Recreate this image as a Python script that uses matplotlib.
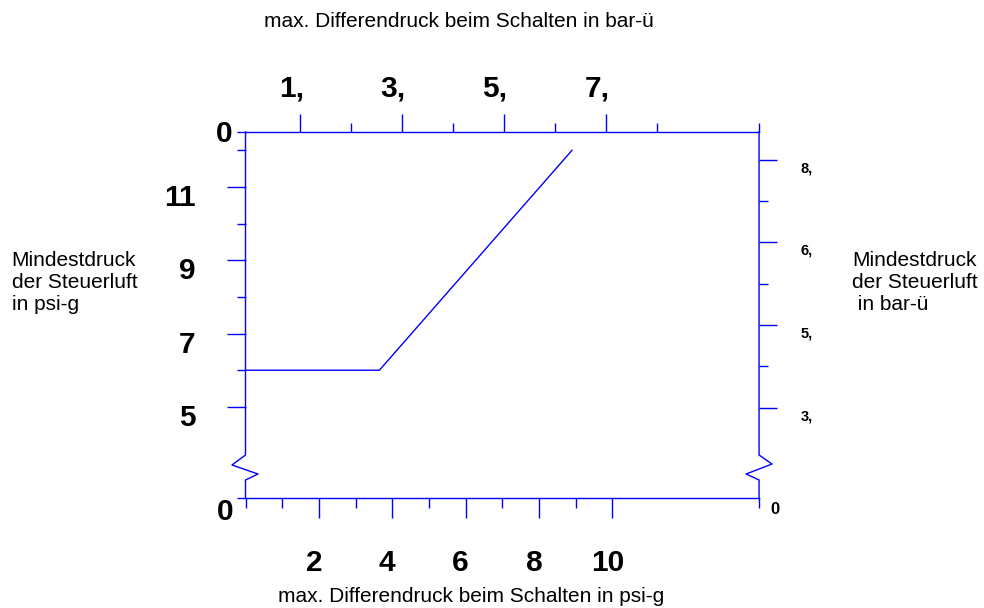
import matplotlib

matplotlib.use("Agg")
import matplotlib.pyplot as plt
from matplotlib.transforms import ScaledTranslation

plt.rcParams["font.family"] = ["Liberation Sans", "DejaVu Sans"]

BLUE = "#0000ff"
PX = 0.72  # one pixel in points at dpi 100

# psi-g scales (bottom / left) and bar-ü scales (top / right)
x_psi_range = [0, 14]
y_psi_range = [2.5, 12.5]
x_bar_range = [-0.008, 1.001]
y_bar_range = [0.185, 0.85]

x_psi_ticks = [2, 4, 6, 8, 10]
x_psi_labels = ["2", "4", "6", "8", "10"]
x_psi_minor = [0, 1, 3, 5, 7, 9, 14]

y_psi_ticks = [5, 7, 9, 11]
y_psi_labels = ["5", "7", "9", "11"]
y_psi_minor = [2.5, 6, 8, 10, 12, 12.5]

x_bar_ticks = [0.1, 0.3, 0.5, 0.7]
x_bar_labels = ["1,", "3,", "5,", "7,"]
x_bar_minor = [0.2, 0.4, 0.6, 0.8, 1.001]

y_bar_ticks = [0.35, 0.5, 0.65, 0.8]
y_bar_labels = ["3,", "5,", "6,", "8,"]
y_bar_minor = [0.425, 0.575, 0.725]

# minimum pilot pressure over max. differential pressure (psi-g)
curve_x = [0, 3.65, 8.9]
curve_y = [6, 6, 12]


def shift_labels(labels, fig, dx_px, dy_px):
    off = ScaledTranslation(dx_px / 100, dy_px / 100, fig.dpi_scale_trans)
    for lab in labels:
        lab.set_transform(lab.get_transform() + off)


fig = plt.figure(figsize=(9.84, 6.08), dpi=100)
ax = fig.add_axes([0.2495, 0.1801, 0.5219, 0.6028])
ax.set_xlim(*x_psi_range)
ax.set_ylim(*y_psi_range)

ax.plot(curve_x, curve_y, color=BLUE, lw=1.0)

# frame: top and bottom as spines, sides drawn with the break mark
for side in ["top", "bottom"]:
    ax.spines[side].set_color(BLUE)
    ax.spines[side].set_linewidth(1.0)
for side in ["left", "right"]:
    ax.spines[side].set_visible(False)
left_side = [(0, 1), (0, 0.1187), (-0.0263, 0.0914), (0.0243, 0.0668),
             (0, 0.0505), (0, 0)]
right_side = [(1, 1), (1, 0.1187), (1.0253, 0.0941), (0.9747, 0.0668),
              (1, 0.0505), (1, 0)]
for pts in [left_side, right_side]:
    ax.plot([p[0] for p in pts], [p[1] for p in pts], color=BLUE, lw=1.0,
            transform=ax.transAxes, clip_on=False)

big = dict(fontsize=21.5, fontweight="bold")

# bottom axis: psi-g
ax.set_xticks(x_psi_ticks, x_psi_labels, **big)
ax.set_xticks(x_psi_minor, minor=True)
ax.tick_params(axis="x", which="major", direction="out", length=20 * PX,
               width=1, color=BLUE, pad=31 * PX)
ax.tick_params(axis="x", which="minor", direction="out", length=10 * PX,
               width=1, color=BLUE)
shift_labels(ax.get_xticklabels(), fig, -5, 0)

# left axis: psi-g
ax.set_yticks(y_psi_ticks, y_psi_labels, **big)
ax.set_yticks(y_psi_minor, minor=True)
ax.tick_params(axis="y", which="major", direction="out", length=19 * PX,
               width=1, color=BLUE, pad=31 * PX)
ax.tick_params(axis="y", which="minor", direction="out", length=9.5 * PX,
               width=1, color=BLUE)
shift_labels(ax.get_yticklabels(), fig, 0, -8)

ax.annotate("0", xy=(0, 1), xycoords="axes fraction", xytext=(-13.5, -2),
            textcoords="offset pixels", ha="right", va="center", **big)
ax.annotate("0", xy=(0, 0), xycoords="axes fraction", xytext=(-12, -13.5),
            textcoords="offset pixels", ha="right", va="center", **big)

# top axis: bar-ü
ax_top = ax.twiny()
ax_top.set_xlim(*x_bar_range)
for s in ax_top.spines.values():
    s.set_visible(False)
ax_top.set_xticks(x_bar_ticks, x_bar_labels, **big)
ax_top.set_xticks(x_bar_minor, minor=True)
ax_top.tick_params(axis="x", which="major", direction="out", length=18 * PX,
                   width=1, color=BLUE, pad=11 * PX)
ax_top.tick_params(axis="x", which="minor", direction="out", length=9 * PX,
                   width=1, color=BLUE)
shift_labels(ax_top.get_xticklabels(), fig, -9, 0)

# right axis: bar-ü
ax_right = ax.twinx()
ax_right.set_ylim(*y_bar_range)
for s in ax_right.spines.values():
    s.set_visible(False)
ax_right.set_yticks(y_bar_ticks, y_bar_labels, fontsize=10.5,
                    fontweight="bold")
ax_right.set_yticks(y_bar_minor, minor=True)
ax_right.tick_params(axis="y", which="major", direction="out",
                     length=18 * PX, width=1, color=BLUE, pad=23.5 * PX)
ax_right.tick_params(axis="y", which="minor", direction="out",
                     length=9 * PX, width=1, color=BLUE)
shift_labels(ax_right.get_yticklabels(), fig, 0, -7)
ax_right.annotate("0", xy=(1, 0), xycoords="axes fraction", xytext=(11, -11),
                  textcoords="offset pixels", ha="left", va="center",
                  fontsize=12, fontweight="bold")

# axis titles
fig.text(459 / 984, 1 - 27 / 608, "max. Differendruck beim Schalten in bar-ü",
         ha="center", va="baseline", fontsize=15)
fig.text(471 / 984, 1 - 602 / 608,
         "max. Differendruck beim Schalten in psi-g",
         ha="center", va="baseline", fontsize=15)
fig.text(11.5 / 984, 1 - 283 / 608, "Mindestdruck\nder Steuerluft\nin psi-g",
         ha="left", va="center", fontsize=15, multialignment="left")
fig.text(852 / 984, 1 - 283 / 608,
         "Mindestdruck\nder Steuerluft\n in bar-ü",
         ha="left", va="center", fontsize=15, multialignment="left")

fig.savefig("out.png", dpi=100)
